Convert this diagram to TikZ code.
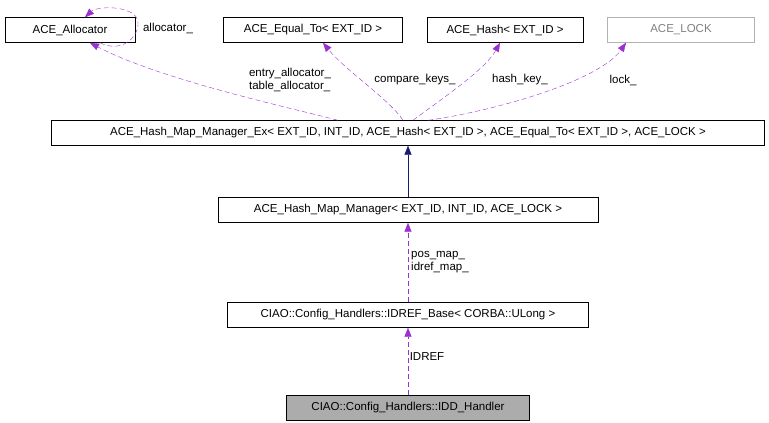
\documentclass[tikz,border=0pt]{standalone}
\usepackage{fontspec}
\setmainfont{Liberation Sans}
\usetikzlibrary{positioning,calc,arrows.meta}
\definecolor{edgepurple}{RGB}{155,48,210}
\definecolor{edgenavy}{RGB}{25,25,112}
\tikzset{
  cls/.style={draw, fill=white, inner sep=2pt, minimum height=25pt, font=\fontsize{11.5}{13}\selectfont},
  use/.style={edgepurple, dashed, dash pattern=on 5pt off 3pt, -{Triangle[length=9pt,width=7pt]}},
  inh/.style={edgenavy, -{Triangle[length=9pt,width=7pt]}},
  lbl/.style={font=\fontsize{11.5}{13}\selectfont, align=left, inner sep=1pt}
}
\begin{document}
\begin{tikzpicture}[x=1pt,y=-1pt]
\useasboundingbox (0,0) rectangle (769,423);

% Top row
\node[cls, minimum width=130pt] (alloc) at (70,30) {ACE\_Allocator};
\node[cls, minimum width=179pt] (equal) at (313,30) {ACE\_Equal\_To< EXT\_ID >};
\node[cls, minimum width=156pt] (hash) at (505,30) {ACE\_Hash< EXT\_ID >};
\node[cls, minimum width=147pt, draw=gray!60, text=gray] (lock) at (681,30) {ACE\_LOCK};

% Managers
\node[cls, minimum width=713pt] (ex) at (408,133) {ACE\_Hash\_Map\_Manager\_Ex< EXT\_ID, INT\_ID, ACE\_Hash< EXT\_ID >, ACE\_Equal\_To< EXT\_ID >, ACE\_LOCK >};
\node[cls, minimum width=380pt] (mgr) at (408,210) {ACE\_Hash\_Map\_Manager< EXT\_ID, INT\_ID, ACE\_LOCK >};
\node[cls, minimum width=361pt] (base) at (408,315) {CIAO::Config\_Handlers::IDREF\_Base< CORBA::ULong >};
\node[cls, minimum width=243pt, fill=gray!65] (idd) at (408,408) {CIAO::Config\_Handlers::IDD\_Handler};

% Self loop
\draw[use] ($(alloc.south)+(30,0)$) .. controls (130,58) and (150,20) .. (130,12) .. controls (115,5) and (95,8) .. ($(alloc.north)+(15,0)$);
\node[lbl] (lalloc) at (168,28) {allocator\_};

% Members of the Ex class
\draw[use] ($(ex.north)+(-70,0)$) .. controls (300,110) and (160,80) .. ($(alloc.south)+(20,0)$);
\node[lbl] (lentry) at (290,80) {entry\_allocator\_\\table\_allocator\_};
\draw[use] ($(ex.north)+(-5,0)$) .. controls (390,100) and (345,70) .. ($(equal.south)+(10,0)$);
\node[lbl] (lcomp) at (415,80) {compare\_keys\_};
\draw[use] ($(ex.north)+(5,0)$) .. controls (440,100) and (485,70) .. ($(hash.south)+(-5,0)$);
\node[lbl] (lhash) at (520,80) {hash\_key\_};
\draw[use] ($(ex.north)+(20,0)$) .. controls (500,110) and (600,80) .. ($(lock.south)+(-55,0)$);
\node[lbl] (llock) at (623,80) {lock\_};

% Lower chain
\draw[inh] (mgr) -- (ex);
\draw[use] (base) -- (mgr);
\node[lbl] (lpos) at (440,262) {pos\_map\_\\idref\_map\_};
\draw[use] (idd) -- (base);
\node[lbl] (lidref) at (427,357) {IDREF};
\end{tikzpicture}
\end{document}
